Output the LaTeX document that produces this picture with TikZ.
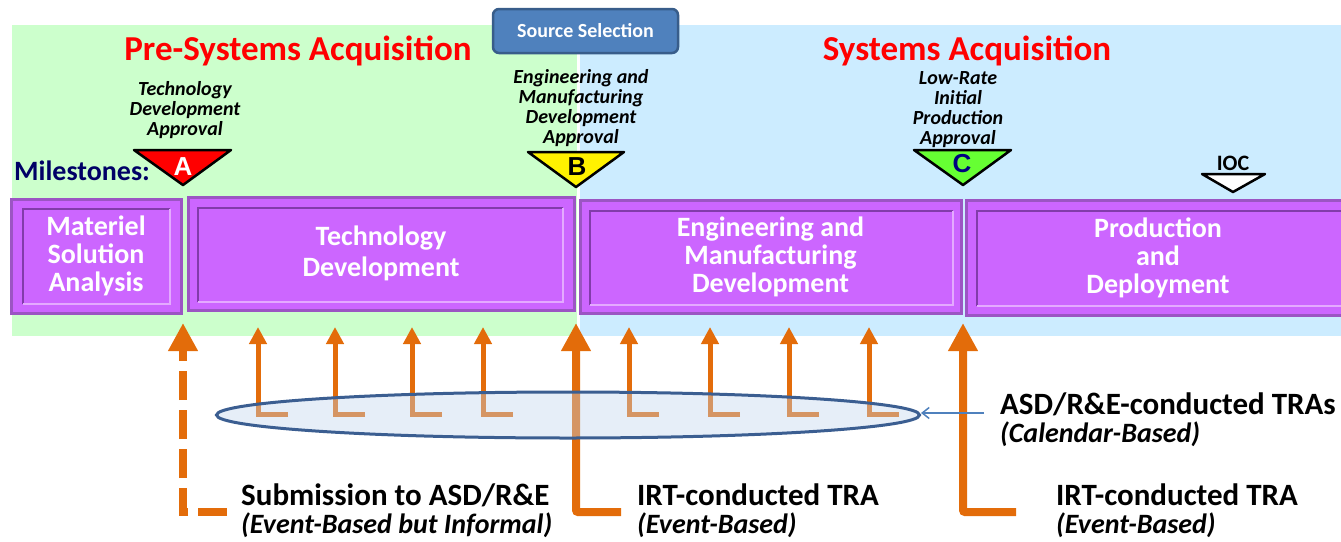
\documentclass[tikz,border=0pt]{standalone}
\usepackage{fontspec}
\setmainfont{Carlito}
\newfontfamily\letterfont{Liberation Sans}
\usetikzlibrary{arrows.meta,shapes.geometric}
\definecolor{pregreen}{RGB}{204,255,204}
\definecolor{sysblue}{RGB}{204,236,255}
\definecolor{phasefill}{RGB}{204,102,255}
\definecolor{phaseedge}{RGB}{155,85,195}
\definecolor{phasedark}{RGB}{130,60,170}
\definecolor{phaselight}{RGB}{228,170,255}
\definecolor{traorange}{RGB}{227,108,10}
\definecolor{selblue}{RGB}{79,129,189}
\definecolor{seledge}{RGB}{56,93,138}
\definecolor{ellfill}{RGB}{192,212,237}
\definecolor{elledge}{RGB}{59,94,145}
\definecolor{msnavy}{RGB}{0,0,102}
\definecolor{cgreen}{RGB}{102,255,51}
\definecolor{cblue}{RGB}{0,0,128}

\begin{document}
\begin{tikzpicture}[x=1pt,y=-1pt]
\tikzstyle{phase-box}=[draw=phaseedge, line width=3pt, fill=phasefill, text=white, inner sep=0pt, font=\fontsize{28}{28}\selectfont\bfseries, align=center]
\tikzstyle{inner-dark}=[phasedark, line width=2pt]
\tikzstyle{inner-light}=[phaselight, line width=2pt]
\tikzstyle{phase-title}=[red, anchor=base, font=\fontsize{35}{36}\selectfont\bfseries]
\tikzstyle{milestone-tri}=[draw=black, line width=2.5pt, line join=round]
\tikzstyle{milestone-letter}=[inner sep=0pt, font=\fontsize{26}{26}\selectfont\letterfont\bfseries]
\tikzstyle{milestone-label}=[anchor=south, inner sep=0pt, align=center, font=\fontsize{20}{20}\selectfont\bfseries\itshape]
\tikzstyle{tra-label}=[anchor=base west, inner sep=0pt, align=left, font=\fontsize{31}{28}\selectfont\bfseries]
\tikzstyle{irt-arrow}=[-{Triangle[width=28pt,length=28pt]}, traorange, line width=8pt, rounded corners=2pt]
\tikzstyle{submission-arrow}=[-{Triangle[width=28pt,length=28pt]}, traorange, line width=8pt, dash pattern=on 29pt off 10pt]
\tikzstyle{calendar-arrow}=[-{Triangle[width=17pt,length=17pt]}, traorange, line width=5pt]
\tikzstyle{calendar-ring}=[ellipse, draw=elledge, line width=3pt, fill=ellfill, fill opacity=0.4, inner sep=0pt, minimum width=703pt, minimum height=46pt]
\tikzstyle{pointer-arrow}=[-{Straight Barb[length=7pt,width=11pt]}, selblue, line width=1.5pt]

\useasboundingbox (0,0) rectangle (1341,541);

% phase backgrounds
\fill[pregreen] (12,25) rectangle (577,336);
\fill[sysblue] (580,25) rectangle (1341,336);

\node[draw=seledge, line width=2.5pt, fill=selblue, rounded corners=6pt, minimum width=185pt, minimum height=44pt, text=white, font=\fontsize{20}{20}\selectfont\bfseries] (source) at (585.5,31) {Source Selection};

\node[style=phase-title] (pre) at (298,60) {Pre-Systems Acquisition};
\node[style=phase-title] (sys) at (967,60) {Systems Acquisition};

\node[anchor=base west, inner sep=0pt, text=msnavy, font=\fontsize{28}{28}\selectfont\bfseries] (milestones) at (14,180) {Milestones:};

% milestones
\draw[style=milestone-tri, fill=red] (134,150) -- (231,150) -- (183,185) -- cycle;
\draw[style=milestone-tri, fill=yellow] (528,152) -- (624,152) -- (576,187) -- cycle;
\draw[style=milestone-tri, fill=cgreen] (914,150) -- (1011,150) -- (963,185) -- cycle;
\draw[style=milestone-tri, fill=white] (1202,174) -- (1265,174) -- (1233,192) -- cycle;
\node[style=milestone-letter, text=white] (msA) at (183,167) {A};
\node[style=milestone-letter, text=black] (msB) at (577,167) {B};
\node[style=milestone-letter, text=cblue] (msC) at (962,164) {C};
\node[anchor=base, inner sep=0pt, font=\fontsize{22}{22}\selectfont\bfseries] (ioc) at (1233,170) {IOC};

\node[style=milestone-label] (labelA) at (185,139) {Technology\\Development\\Approval};
\node[style=milestone-label] (labelB) at (581,147) {Engineering and\\Manufacturing\\Development\\Approval};
\node[style=milestone-label] (labelC) at (958,148) {Low-Rate\\Initial\\Production\\Approval};

% phases
\node[style=phase-box, minimum width=170pt, minimum height=114pt] (msa) at (96,256) {Materiel\\Solution\\Analysis};
\node[style=phase-box, minimum width=386pt, minimum height=113pt, font=\fontsize{28}{31}\selectfont\bfseries] (td) at (381,253.5) {Technology\\Development};
\node[style=phase-box, minimum width=381pt, minimum height=113pt] (emd) at (770.5,256.5) {Engineering and\\Manufacturing\\Development};
\node[style=phase-box, minimum width=384pt, minimum height=115pt] (pd) at (1158,257.5) {Production\\and\\Deployment};

\draw[style=inner-dark] (23,304) -- (23,209) -- (170,209);
\draw[style=inner-light] (170,209) -- (170,304) -- (23,304);
\draw[style=inner-dark] (198,302) -- (198,208) -- (563,208);
\draw[style=inner-light] (563,208) -- (563,302) -- (198,302);
\draw[style=inner-dark] (590,305) -- (590,211) -- (953,211);
\draw[style=inner-light] (953,211) -- (953,305) -- (590,305);
\draw[style=inner-dark] (977,306) -- (977,211) -- (1345,211);
\draw[style=inner-light] (1345,306) -- (977,306);

% TRA arrows
\coordinate (subfoot) at (227,512);
\coordinate (subtip) at (183,323);
\coordinate (irtBfoot) at (621,512);
\coordinate (irtBtip) at (576,323);
\coordinate (irtCfoot) at (1016,512);
\coordinate (irtCtip) at (963,323);
\draw[style=submission-arrow] (subfoot) -| (subtip);
\draw[style=irt-arrow] (irtBfoot) -| (irtBtip);
\draw[style=irt-arrow] (irtCfoot) -| (irtCtip);

\coordinate (f1) at (288,414); \coordinate (t1) at (258,327);
\coordinate (f2) at (365,414); \coordinate (t2) at (335,327);
\coordinate (f3) at (442,414); \coordinate (t3) at (412,327);
\coordinate (f4) at (513,414); \coordinate (t4) at (483,327);
\coordinate (f5) at (659,414); \coordinate (t5) at (629,327);
\coordinate (f6) at (740,414); \coordinate (t6) at (710,327);
\coordinate (f7) at (819,414); \coordinate (t7) at (789,327);
\coordinate (f8) at (899,414); \coordinate (t8) at (869,327);
\draw[style=calendar-arrow] (f1) -| (t1);
\draw[style=calendar-arrow] (f2) -| (t2);
\draw[style=calendar-arrow] (f3) -| (t3);
\draw[style=calendar-arrow] (f4) -| (t4);
\draw[style=calendar-arrow] (f5) -| (t5);
\draw[style=calendar-arrow] (f6) -| (t6);
\draw[style=calendar-arrow] (f7) -| (t7);
\draw[style=calendar-arrow] (f8) -| (t8);

\node[style=calendar-ring] (calendar) at (568,415) {};

\coordinate (asdtail) at (984,413);
\draw[style=pointer-arrow] (asdtail) -- (asdtail -| calendar.east);

% labels
\node[style=tra-label] (asd) at (1000,442) {ASD/R\&E-conducted TRAs\\\fontsize{28}{30}\selectfont\itshape (Calendar-Based)};
\node[style=tra-label] (irtC) at (1056,533) {IRT-conducted TRA\\\fontsize{28}{28}\selectfont\itshape (Event-Based)};
\node[style=tra-label] (irtB) at (637,533) {IRT-conducted TRA\\\fontsize{28}{28}\selectfont\itshape (Event-Based)};
\node[style=tra-label] (sub) at (241,533) {Submission to ASD/R\&E\\\fontsize{28}{28}\selectfont\itshape (Event-Based but Informal)};

\end{tikzpicture}
\end{document}
